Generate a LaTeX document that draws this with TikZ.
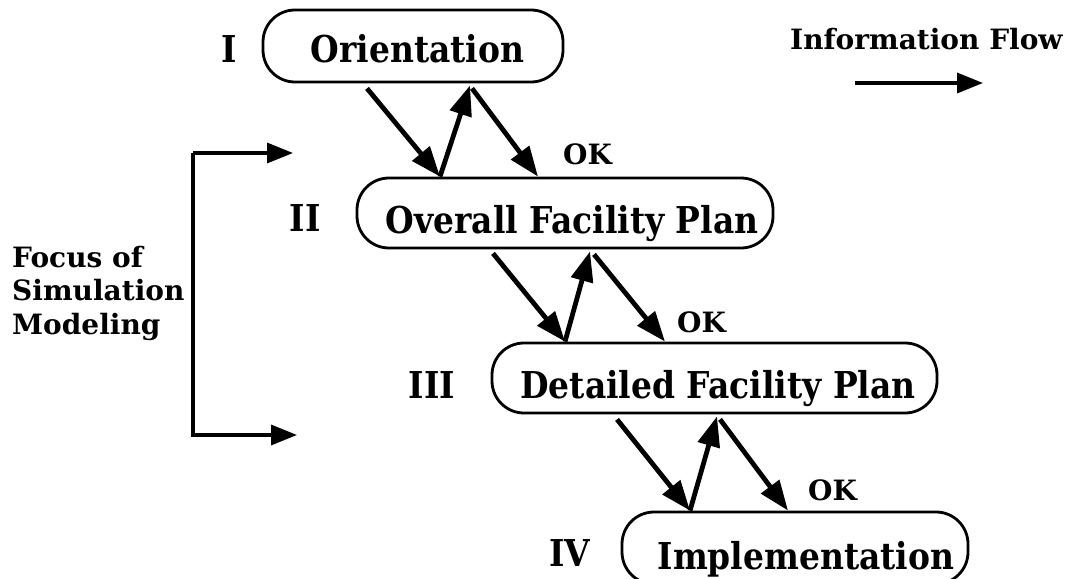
\documentclass[tikz,border=0pt]{standalone}
\usepackage{fontspec}
\setmainfont{DejaVu Serif}
\newfontfamily\bigfam{DejaVu Serif}[FakeStretch=0.89]
\newfontfamily\smallfam{DejaVu Serif}[FakeStretch=1.0]
\usetikzlibrary{arrows.meta}
\begin{document}
\begin{tikzpicture}[x=1pt,y=-1pt,
  stage/.style={draw,line width=2.8pt,rounded corners=32pt,inner sep=0pt},
  boxtext/.style={font=\bigfam\fontsize{37}{40}\selectfont\bfseries,inner sep=0pt,anchor=base},
  small/.style={font=\smallfam\fontsize{28}{33.5}\selectfont\bfseries,inner sep=0pt},
  flow/.style={line width=4.8pt,-{Triangle[length=30pt,width=22pt]}},
  thin/.style={line width=3.4pt,-{Triangle[length=26pt,width=20pt]}}]
\useasboundingbox (0,0) rectangle (1083,578);
\clip (0,0) rectangle (1083,578);
% boxes
\node[stage,minimum width=300pt,minimum height=72pt] (b1) at (413,46) {};
\node[stage,minimum width=416pt,minimum height=70pt] (b2) at (565,213) {};
\node[stage,minimum width=445pt,minimum height=70pt] (b3) at (714.5,378) {};
\node[stage,minimum width=346pt,minimum height=72pt] (b4) at (795,548) {};
% box texts
\node[boxtext] (t1) at (417.5,63) {Orientation};
\node[boxtext] (t2) at (572,233) {Overall Facility Plan};
\node[boxtext] (t3) at (718,398) {Detailed Facility Plan};
\node[boxtext] (t4) at (806,569) {Implementation};
% roman labels
\node[boxtext] (r1) at (229,63) {I};
\node[boxtext] (r2) at (305,231) {II};
\node[boxtext] (r3) at (432,398) {III};
\node[boxtext] (r4) at (570,566) {IV};
% OK labels
\node[small,anchor=base west] (ok1) at (563,164) {OK};
\node[small,anchor=base west] (ok2) at (677,332) {OK};
\node[small,anchor=base west] (ok3) at (808,500) {OK};
% arrows I-II
\draw[flow] ([shift={(-46,5)}]b1.south) -- ([shift={(-125,0)}]b2.north);
\draw[flow] ([shift={(-125,0)}]b2.north) -- ([shift={(57,2)}]b1.south);
\draw[flow] ([shift={(59,5)}]b1.south) -- ([shift={(-27,0)}]b2.north);
% arrows II-III
\draw[flow] ([shift={(-72,4)}]b2.south) -- ([shift={(-149.5,0)}]b3.north);
\draw[flow] ([shift={(-149.5,0)}]b3.north) -- ([shift={(25,2)}]b2.south);
\draw[flow] ([shift={(29,5)}]b2.south) -- ([shift={(-49.5,0)}]b3.north);
% arrows III-IV
\draw[flow] ([shift={(-97.5,5)}]b3.south) -- ([shift={(-105,0)}]b4.north);
\draw[flow] ([shift={(-105,0)}]b4.north) -- ([shift={(2.5,2)}]b3.south);
\draw[flow] ([shift={(5.5,5)}]b3.south) -- ([shift={(-7,0)}]b4.north);
% focus bracket
\coordinate (fc) at (193,153);
\coordinate (ft) at (293,153);
\coordinate (fb) at (297,435);
\draw[thin] (fc) -- (ft);
\draw[thin] (fc) |- (fb);
\node[small,align=left,anchor=base west] (focus) at (12,334) {Focus of\\Simulation\\Modeling};
% information flow legend
\node[small,anchor=base west] (info) at (790,50) {Information Flow};
\coordinate (ia) at (855,83);
\coordinate (ib) at (983,83);
\draw[thin] (ia) -- (ib);
\end{tikzpicture}
\end{document}
